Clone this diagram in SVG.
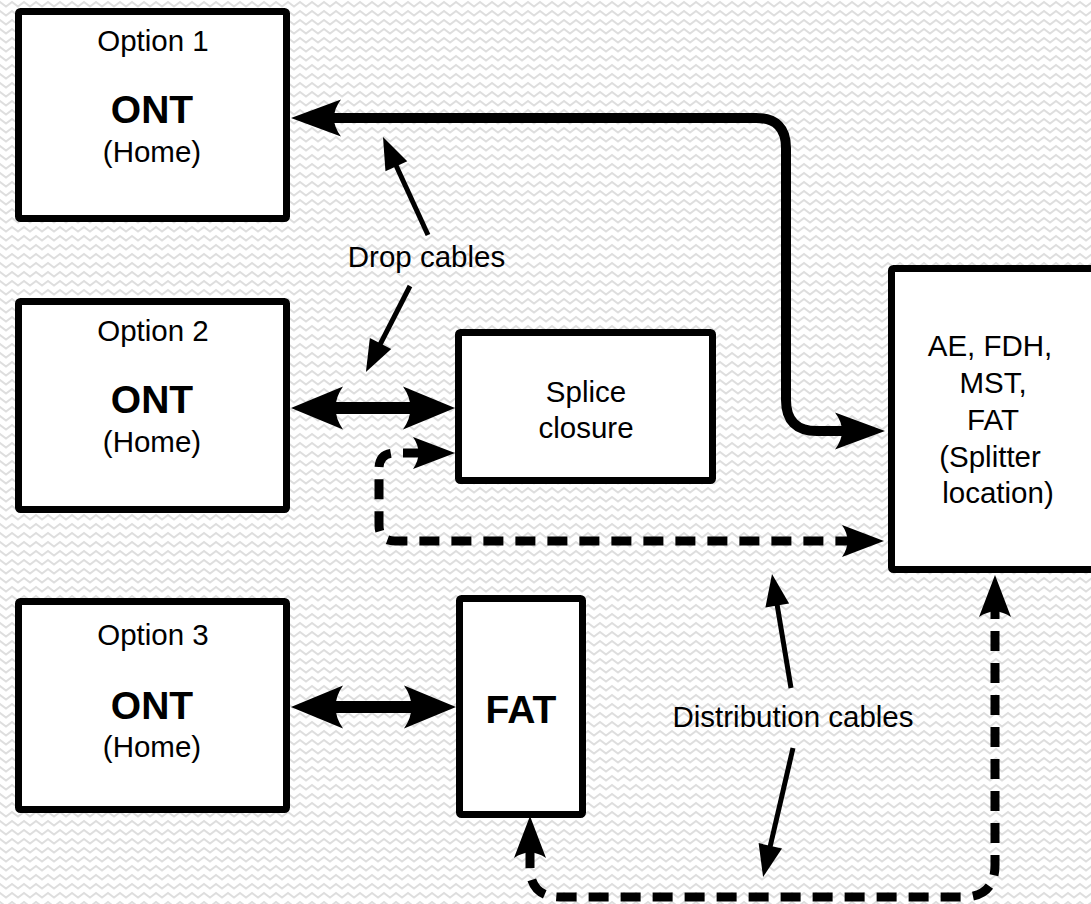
<svg xmlns="http://www.w3.org/2000/svg" width="1091" height="904" viewBox="0 0 1091 904">
<style>
.box{fill:#fff;stroke:#000;stroke-width:7;stroke-linejoin:round}
.t{font-family:"Liberation Sans",Arial,sans-serif;font-size:29.5px;fill:#000;text-anchor:middle}
.b{font-family:"Liberation Sans",Arial,sans-serif;font-size:39px;font-weight:bold;fill:#000;text-anchor:middle}
.solid{fill:none;stroke:#000;stroke-width:10}
.dbl{fill:none;stroke:#000;stroke-width:12}
.dash{fill:none;stroke:#000;stroke-width:9;stroke-dasharray:20 12}
.ptr{fill:none;stroke:#000;stroke-width:5}
</style>
<defs>
<pattern id="zz" width="12" height="9" patternUnits="userSpaceOnUse">
<polyline points="-6,6.5 0,2 6,6.5 12,2 18,6.5" fill="none" stroke="#dedede" stroke-width="2"/>
</pattern>
<marker id="mA" markerUnits="userSpaceOnUse" markerWidth="50" markerHeight="37" refX="12" refY="18.5" orient="auto-start-reverse" overflow="visible">
<path d="M0,0 L50,18.5 L0,37 Q14,18.5 0,0Z" fill="#000"/>
</marker>
<marker id="mB" markerUnits="userSpaceOnUse" markerWidth="52" markerHeight="43" refX="14" refY="21.5" orient="auto-start-reverse" overflow="visible">
<path d="M0,0 L52,21.5 L0,43 Q15,21.5 0,0Z" fill="#000"/>
</marker>
<marker id="mC" markerUnits="userSpaceOnUse" markerWidth="42" markerHeight="32" refX="10" refY="16" orient="auto-start-reverse" overflow="visible">
<path d="M0,0 L42,16 L0,32 Q11,16 0,0Z" fill="#000"/>
</marker>
<marker id="mD" markerUnits="userSpaceOnUse" markerWidth="32" markerHeight="24" refX="4" refY="12" orient="auto" overflow="visible">
<path d="M0,0 L32,12 L0,24Z" fill="#000"/>
</marker>
</defs>
<rect width="1091" height="904" fill="#fff"/>
<rect width="1091" height="904" fill="url(#zz)"/>

<g id="connectors">
<path class="solid" d="M329,118 H756 Q786,118 786,148 V400 Q786,431 817,431 H847" marker-start="url(#mA)" marker-end="url(#mA)"/>
<path class="dbl" d="M329,408 H417" marker-start="url(#mB)" marker-end="url(#mB)"/>
<path class="dbl" d="M329,707 H418" marker-start="url(#mB)" marker-end="url(#mB)"/>
<path class="dash" d="M423,453 H395 Q379,453 379,469 V525 Q379,541 395,541 H852" marker-start="url(#mC)" marker-end="url(#mC)"/>
<path class="dash" d="M530,848 V867 Q530,897 560,897 H963 Q995,897 995,865 V607" marker-start="url(#mC)" marker-end="url(#mC)"/>
<path class="ptr" d="M428,235 L394.7,162.5" marker-end="url(#mD)"/>
<path class="ptr" d="M410,286 L378.7,347.1" marker-end="url(#mD)"/>
<path class="ptr" d="M791,688 L776.6,601.6" marker-end="url(#mD)"/>
<path class="ptr" d="M793,748 L769.4,849.7" marker-end="url(#mD)"/>
</g>

<g id="ont1">
<rect class="box" x="18.5" y="11.5" width="268" height="207" rx="2"/>
<text class="t" x="153" y="51">Option 1</text>
<text class="b" x="152" y="123">ONT</text>
<text class="t" x="152" y="162">(Home)</text>
</g>
<g id="ont2">
<rect class="box" x="18.5" y="301.5" width="268" height="208" rx="2"/>
<text class="t" x="153" y="341">Option 2</text>
<text class="b" x="152" y="413">ONT</text>
<text class="t" x="152" y="452">(Home)</text>
</g>
<g id="ont3">
<rect class="box" x="18.5" y="601.5" width="268" height="208" rx="2"/>
<text class="t" x="153" y="645">Option 3</text>
<text class="b" x="152" y="719">ONT</text>
<text class="t" x="152" y="757">(Home)</text>
</g>
<g id="splice">
<rect class="box" x="458.5" y="332.5" width="254" height="148" rx="2"/>
<text class="t" x="586" y="402">Splice</text>
<text class="t" x="586" y="438">closure</text>
</g>
<g id="fat">
<rect class="box" x="459.5" y="598.5" width="123" height="216" rx="2"/>
<text class="b" x="521" y="723">FAT</text>
</g>
<g id="splitter">
<rect class="box" x="891.5" y="268.5" width="230" height="301" rx="2"/>
<text class="t" x="990" y="356">AE, FDH,</text>
<text class="t" x="993" y="393">MST,</text>
<text class="t" x="993" y="430">FAT</text>
<text class="t" x="990" y="467">(Splitter</text>
<text class="t" x="998" y="503">location)</text>
</g>
<g id="labels">
<text class="t" x="426.5" y="267">Drop cables</text>
<text class="t" x="793" y="727">Distribution cables</text>
</g>
</svg>
